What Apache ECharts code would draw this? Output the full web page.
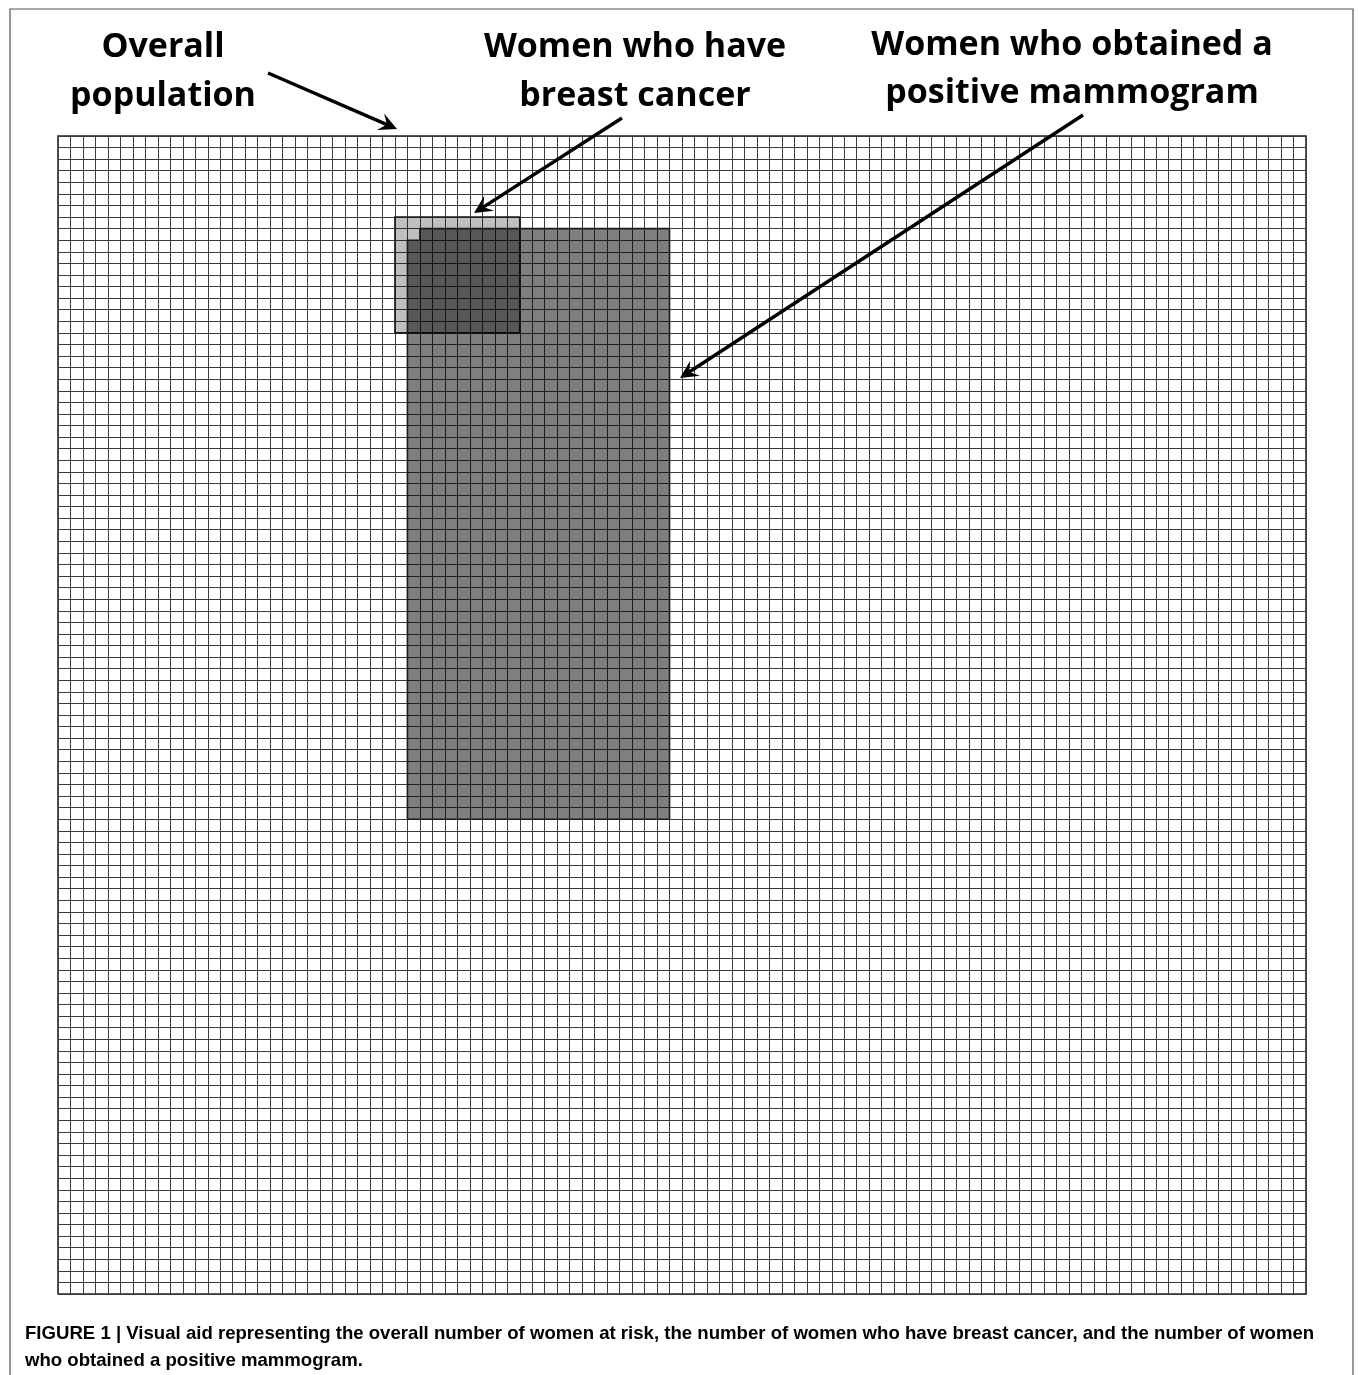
<!DOCTYPE html>
<html><head><meta charset="utf-8">
<script src="https://cdn.jsdelivr.net/npm/echarts@6/dist/echarts.min.js"></script>
<style>html,body{margin:0;padding:0;background:#fff}#c{width:1358px;height:1375px}</style>
</head><body><div id="c"></div>
<script>
// ---- data (cell units on a 100 x 100 grid of 10,000 women) ----
const gridCols = 100;
const gridRows = 100;
const regionNames = [
  'Women who have breast cancer',
  'Women who obtained a positive mammogram',
  'Women with breast cancer and a positive mammogram'
];
// outlines in grid-cell coordinates [column, row]
const cancerOutline = [[27,7],[37,7],[37,17],[27,17]];
const positiveOutline = [[29,8],[49,8],[49,59],[28,59],[28,9],[29,9]];
const overlapOutline = [[29,8],[37,8],[37,17],[28,17],[28,9],[29,9]];
const regionOutlines = [cancerOutline, positiveOutline, overlapOutline];

const headerLines = [
  ['Overall', 'population'],
  ['Women who have', 'breast cancer'],
  ['Women who obtained a', 'positive mammogram']
];
const captionLines = [
  'FIGURE 1 | Visual aid representing the overall number of women at risk, the number of women who have breast cancer, and the number of women',
  'who obtained a positive mammogram.'
];

// ---- styles ----
const regionFills = ['rgba(0,0,0,0.25)', 'rgba(0,0,0,0.5)', 'rgba(0,0,0,0.07)'];
const regionStrokes = ['#1a1a1a', '#1a1a1a', null];

const chart = echarts.init(document.getElementById('c'), null, {renderer: 'canvas'});

function arrow(x1, y1, x2, y2) {
  const dx = x2 - x1, dy = y2 - y1, L = Math.hypot(dx, dy);
  const ux = dx / L, uy = dy / L, px = -uy, py = ux;
  const hl = 18, hw = 9, notch = 11;
  const bx = x2 - ux * hl, by = y2 - uy * hl;
  const nx = x2 - ux * notch, ny = y2 - uy * notch;
  return [
    {type: 'line', shape: {x1: x1, y1: y1, x2: nx, y2: ny}, style: {stroke: '#000', lineWidth: 3.4}},
    {type: 'polygon', shape: {points: [[x2, y2], [bx + px * hw, by + py * hw], [nx, ny], [bx - px * hw, by - py * hw]]}, style: {fill: '#000'}}
  ];
}

const headerPos = [[163, 47, 96], [635, 47, 96], [1072, 45, 93]];
const textEls = [];
headerLines.forEach((lines, i) => {
  lines.forEach((t, j) => {
    textEls.push({type: 'text', x: headerPos[i][0], y: headerPos[i][1 + j],
      style: {text: t, font: 'bold 34px "Open Sans"', fill: '#000', textAlign: 'center', textVerticalAlign: 'middle'}});
  });
});
captionLines.forEach((t, j) => {
  textEls.push({type: 'text', x: 25, y: 1334 + j * 27,
    style: {text: t, font: 'bold 18.6px "Liberation Sans"', fill: '#000', textAlign: 'left', textVerticalAlign: 'middle'}});
});

const axisCommon = {
  type: 'value', min: 0, interval: 1,
  axisLabel: {show: false}, axisTick: {show: false}, axisLine: {show: false},
  splitLine: {show: true, lineStyle: {color: '#3c3c3c', width: 1}}
};

chart.setOption({
  animation: false,
  grid: {left: 58, top: 136, width: 1248, height: 1158, show: true, borderColor: '#222', borderWidth: 1.5, backgroundColor: '#fff'},
  xAxis: Object.assign({}, axisCommon, {max: gridCols}),
  yAxis: Object.assign({}, axisCommon, {max: gridRows, inverse: true}),
  series: [{
    type: 'custom',
    name: 'regions',
    clip: false,
    data: regionOutlines.map((o, i) => [i, o[0][0], o[0][1]]),
    encode: {x: 1, y: 2},
    renderItem: function (params, api) {
      const idx = api.value(0);
      const pts = regionOutlines[idx].map(p => api.coord(p));
      return {
        type: 'polygon', shape: {points: pts},
        style: {fill: regionFills[idx], stroke: regionStrokes[idx], lineWidth: regionStrokes[idx] ? 1.6 : 0}
      };
    }
  }],
  graphic: [
    {type: 'rect', shape: {x: 10, y: 9, width: 1343, height: 1420}, style: {fill: null, stroke: '#555', lineWidth: 1.2}, z: 100}
  ].concat(textEls.map(e => Object.assign(e, {z: 100})),
    arrow(268, 73, 397, 129).map(e => Object.assign(e, {z: 100})),
    arrow(622, 118, 474, 213).map(e => Object.assign(e, {z: 100})),
    arrow(1083, 115, 680, 378).map(e => Object.assign(e, {z: 100})))
});
</script></body></html>
